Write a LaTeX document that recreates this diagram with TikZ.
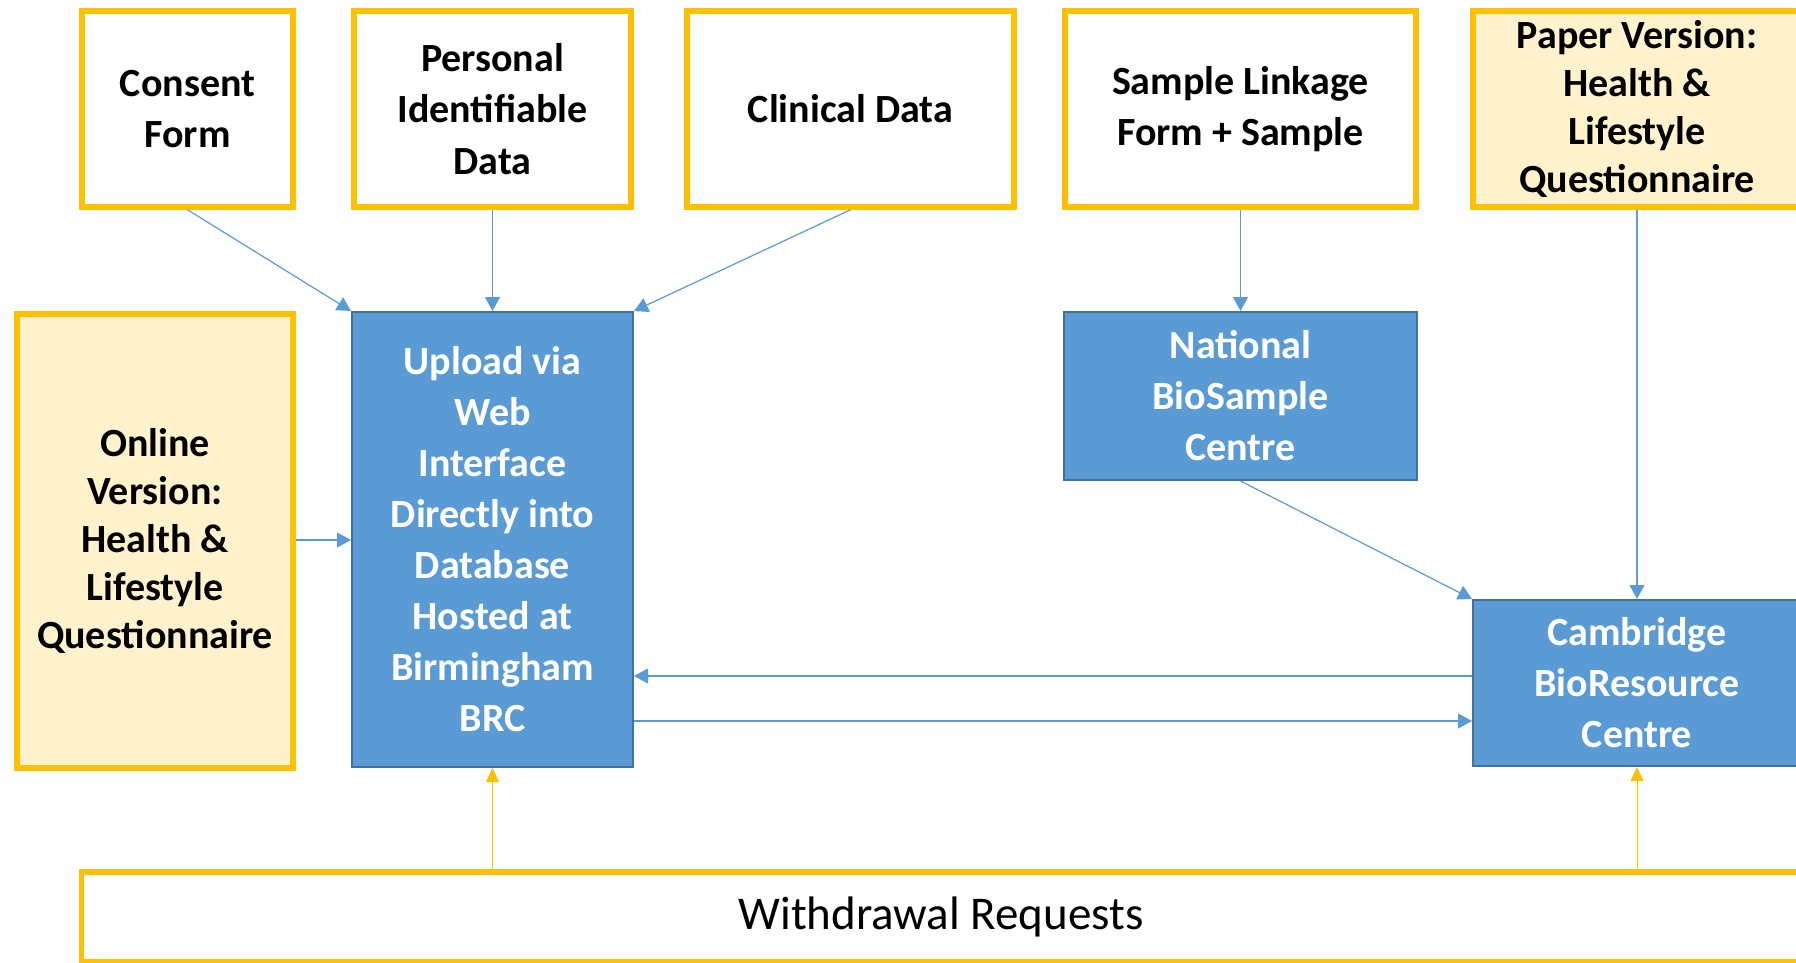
\documentclass[tikz,border=0pt]{standalone}
\usepackage{fontspec}
\setmainfont{Carlito}
\usetikzlibrary{arrows.meta}
\definecolor{ylw}{HTML}{FFC000}
\definecolor{lightylw}{HTML}{FFF2CC}
\definecolor{bluefill}{HTML}{5B9BD5}
\definecolor{blueedge}{HTML}{41719C}
\tikzset{
  inbox/.style={draw=ylw, line width=5.5pt, fill=white, inner sep=0pt, align=center,
    font=\fontsize{40}{51.5}\selectfont\bfseries, text=black},
  qbox/.style={inbox, fill=lightylw, font=\fontsize{40}{48}\selectfont\bfseries},
  bluebox/.style={draw=blueedge, line width=2pt, fill=bluefill, inner sep=0pt, align=center,
    font=\fontsize{40}{51}\selectfont\bfseries, text=white},
  arr/.style={draw=bluefill, line width=1.2pt, -{Triangle[length=14pt,width=15pt]}},
  yarr/.style={draw=ylw, line width=1pt, -{Triangle[length=14pt,width=13pt]}},
}
\begin{document}
\begin{tikzpicture}[x=1pt,y=-1pt]
\useasboundingbox (0,0) rectangle (1796,962);
\fill[white] (0,0) rectangle (1796,962);
\clip (0,0) rectangle (1796,962);

\node[inbox, minimum width=211pt, minimum height=196pt] (consent) at (187.5,109) {Consent\\Form};
\node[inbox, minimum width=277pt, minimum height=196pt] (personal) at (492.5,109) {Personal\\Identifiable\\Data};
\node[inbox, minimum width=327pt, minimum height=196pt] (clinical) at (850.5,109) {Clinical Data};
\node[inbox, minimum width=351pt, minimum height=196pt] (sample) at (1240.5,109) {Sample Linkage\\Form + Sample};
\node[qbox, minimum width=328pt, minimum height=196pt] (paper) at (1637,109) {Paper Version:\\Health \&\\Lifestyle\\Questionnaire};

\node[qbox, minimum width=276pt, minimum height=454pt] (online) at (155,541) {Online\\Version:\\Health \&\\Lifestyle\\Questionnaire};
\node[bluebox, minimum width=281pt, minimum height=455pt] (upload) at (492.5,539.5) {Upload via\\Web\\Interface\\Directly into\\Database\\Hosted at\\Birmingham\\BRC};
\node[bluebox, minimum width=353pt, minimum height=168pt] (national) at (1240.5,396) {National\\BioSample\\Centre};
\node[bluebox, minimum width=328pt, minimum height=166pt] (cambridge) at (1637,683) {Cambridge\\BioResource\\Centre};

\node[draw=ylw, line width=5.5pt, fill=white, inner sep=0pt, minimum width=1719pt, minimum height=90pt,
  font=\fontsize{47}{56}\selectfont, text=black] (withdraw) at (941,917) {\raisebox{-4pt}{Withdrawal Requests}};

\coordinate (ret) at (0,676);
\coordinate (fwd) at (0,721);
\coordinate (onl) at (0,540);

\draw[arr] (consent.south) -- (upload.north west);
\draw[arr] (personal.south) -- (upload.north);
\draw[arr] (clinical.south) -- (upload.north east);
\draw[arr] (online.east |- onl) -- (upload.west |- onl);
\draw[arr] (sample.south) -- (national.north);
\draw[arr] (national.south) -- (cambridge.north west);
\draw[arr] (paper.south) -- (cambridge.north);
\draw[arr] (cambridge.west |- ret) -- (upload.east |- ret);
\draw[arr] (upload.east |- fwd) -- (cambridge.west |- fwd);
\draw[yarr] (withdraw.north -| upload.south) -- (upload.south);
\draw[yarr] (withdraw.north -| cambridge.south) -- (cambridge.south);
\end{tikzpicture}
\end{document}
